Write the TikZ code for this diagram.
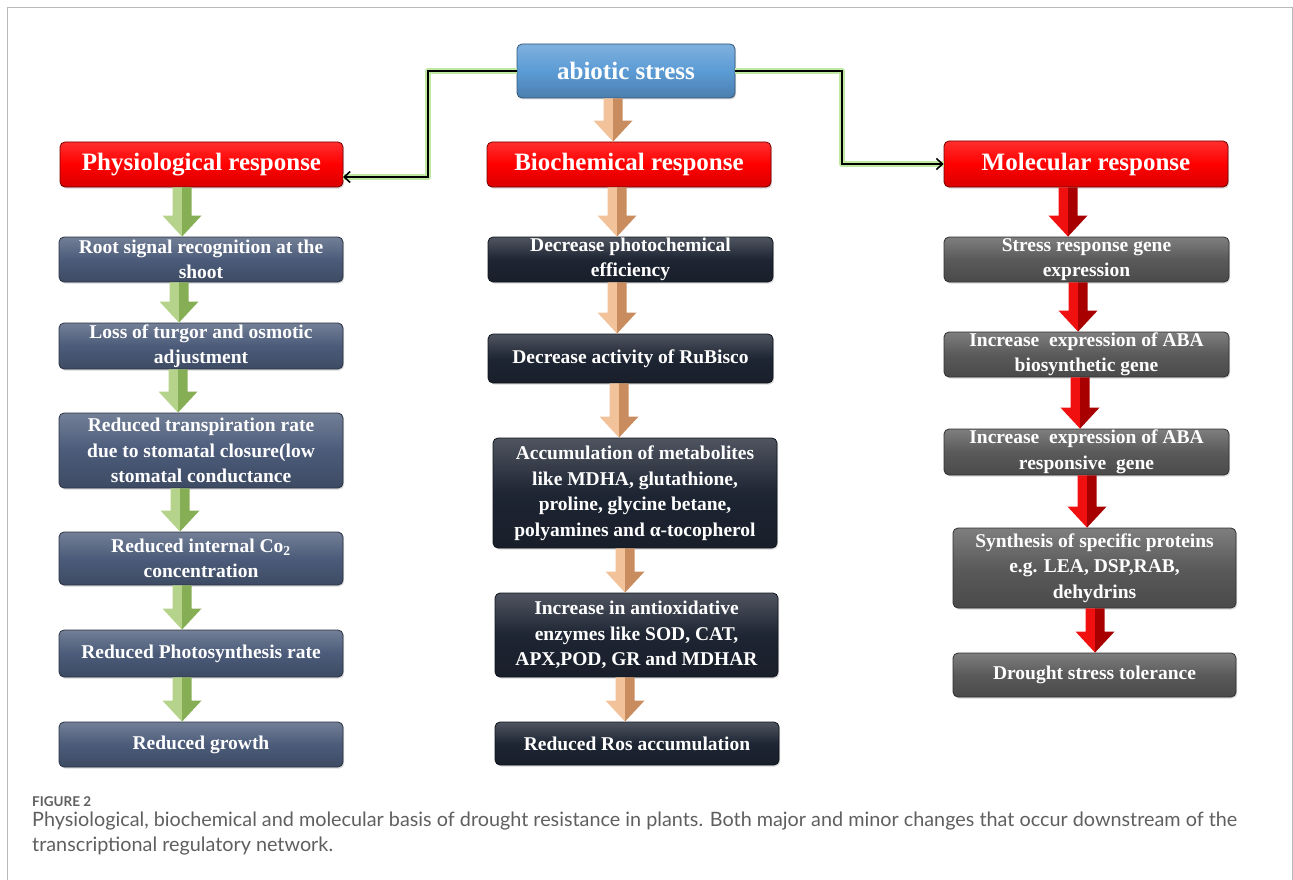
\documentclass[tikz,border=0pt]{standalone}
\usepackage{fontspec}
\setmainfont{Liberation Serif}
\newfontfamily\capfont{Lato}
\usetikzlibrary{calc,arrows.meta,shadows}
\definecolor{slatebox}{HTML}{4B5B79}
\definecolor{navybox}{HTML}{1E2533}
\definecolor{graybox}{HTML}{5A5A5A}
\definecolor{bluebox}{HTML}{5B9BD5}
\definecolor{redbox}{HTML}{FF0000}
\definecolor{glow}{HTML}{BFE8A0}
\definecolor{grnL}{HTML}{B5D38A}
\definecolor{grnD}{HTML}{86AE55}
\definecolor{tanL}{HTML}{F2C39B}
\definecolor{tanD}{HTML}{C98C5E}
\definecolor{redL}{HTML}{F01010}
\definecolor{redD}{HTML}{A80000}
\definecolor{capgray}{HTML}{5F5F5F}
\newcommand\blockarr[5]{%
  \fill[#4] let \p1=(#1.south), \p2=(#2.north) in
    ({#3-9.5},\y1) -- ({#3},\y1) -- ({#3},\y2) -- ({#3-19.5},{\y2+21pt}) -- ({#3-9.5},{\y2+21pt}) -- cycle;
  \fill[#5] let \p1=(#1.south), \p2=(#2.north) in
    ({#3},\y1) -- ({#3+9.5},\y1) -- ({#3+9.5},{\y2+21pt}) -- ({#3+19.5},{\y2+21pt}) -- ({#3},\y2) -- cycle;
}
\begin{document}
\begin{tikzpicture}[x=1pt,y=-1pt,
  box/.style={rounded corners=5pt, draw=#1!55!black, line width=0.8pt,
    top color=#1!78!white, bottom color=#1!82!black, middle color=#1,
    inner sep=0pt, text=white, align=center,
    font=\bfseries\fontsize{19.5}{25.5}\selectfont,
    drop shadow={opacity=0.3,shadow xshift=1.2pt,shadow yshift=-1.5pt}},
  headbox/.style={rounded corners=5pt, draw=redbox!45!black, line width=0.8pt,
    top color=redbox!82!white, bottom color=redbox!85!black, middle color=redbox,
    inner sep=0pt, text=white, align=center,
    font=\bfseries\fontsize{25}{30}\selectfont,
    drop shadow={opacity=0.3,shadow xshift=1.2pt,shadow yshift=-1.5pt}},
  glowline/.style={line width=6.5pt, glow, line join=round},
  conn/.style={line width=1.6pt, black, -{Straight Barb[length=6pt,width=11pt]}}
]
\useasboundingbox (0,0) rectangle (1293,880);
\draw[gray!55, line width=1pt] (7,890) -- (7,8) -- (1292,8) -- (1292,890);

% top node
\node[box=bluebox, font=\bfseries\fontsize{25}{30}\selectfont, minimum width=218pt, minimum height=54pt] (abio) at (626,71) {abiotic stress};

% headers
\node[headbox, minimum width=283pt, minimum height=45pt] (phys) at (201.5,164.5) {Physiological response};
\node[headbox, minimum width=284pt, minimum height=45pt] (bioc) at (629,164.5) {Biochemical response};
\node[headbox, minimum width=284pt, minimum height=46pt] (mole) at (1086,164) {Molecular response};

% connectors
\coordinate (kl) at (428,71);
\coordinate (kr) at (842,71);
\coordinate (pe) at (343,177);
\draw[glowline] (abio.west) -- (kl) |- (pe);
\draw[glowline] (abio.east) -- (kr) |- (mole.west);
\draw[conn] (abio.west) -- (kl) |- (pe);
\draw[conn] (abio.east) -- (kr) |- (mole.west);

% left column
\node[box=slatebox, minimum width=284pt, minimum height=45pt] (l1) at (201,259.5) {Root signal recognition at the\\shoot};
\node[box=slatebox, minimum width=284pt, minimum height=46pt] (l2) at (201,346) {Loss of turgor and osmotic\\adjustment};
\node[box=slatebox, minimum width=284pt, minimum height=75pt] (l3) at (201,450.5) {Reduced transpiration rate\\due to stomatal closure(low\\stomatal conductance};
\node[box=slatebox, minimum width=284pt, minimum height=53pt] (l4) at (201,558.5) {Reduced internal Co\textsubscript{2}\\concentration};
\node[box=slatebox, minimum width=284pt, minimum height=47pt] (l5) at (201,653.5) {Reduced Photosynthesis rate};
\node[box=slatebox, minimum width=284pt, minimum height=45pt] (l6) at (201,744.5) {Reduced growth};

% middle column
\node[box=navybox, minimum width=285pt, minimum height=45pt] (m1) at (630.5,259.5) {Decrease photochemical\\efficiency};
\node[box=navybox, minimum width=285pt, minimum height=49pt] (m2) at (630.5,358.5) {Decrease activity of RuBisco};
\node[box=navybox, minimum width=284pt, minimum height=110pt] (m3) at (635,493) {Accumulation of metabolites\\like MDHA, glutathione,\\proline, glycine betane,\\polyamines and α-tocopherol};
\node[box=navybox, minimum width=283pt, minimum height=84pt] (m4) at (636.5,635) {Increase in antioxidative\\enzymes like SOD, CAT,\\APX,POD, GR and MDHAR};
\node[box=navybox, minimum width=284pt, minimum height=43pt] (m5) at (637,743.5) {Reduced Ros accumulation};

% right column
\node[box=graybox, minimum width=285pt, minimum height=45pt] (r1) at (1086.5,259.5) {Stress response gene\\expression};
\node[box=graybox, minimum width=285pt, minimum height=45pt] (r2) at (1086.5,354.5) {Increase\ \ expression of ABA\\biosynthetic gene};
\node[box=graybox, minimum width=285pt, minimum height=46pt] (r3) at (1086.5,452) {Increase\ \ expression of ABA\\responsive\ \ gene};
\node[box=graybox, minimum width=283pt, minimum height=80pt] (r4) at (1094.5,568) {Synthesis of specific proteins\\e.g. LEA, DSP,RAB,\\dehydrins};
\node[box=graybox, minimum width=283pt, minimum height=44pt] (r5) at (1094.5,675) {Drought stress tolerance};

% block arrows
\blockarr{phys}{l1}{182}{grnL}{grnD}
\blockarr{l1}{l2}{179}{grnL}{grnD}
\blockarr{l2}{l3}{178}{grnL}{grnD}
\blockarr{l3}{l4}{180}{grnL}{grnD}
\blockarr{l4}{l5}{182}{grnL}{grnD}
\blockarr{l5}{l6}{182}{grnL}{grnD}

\blockarr{abio}{bioc}{613}{tanL}{tanD}
\blockarr{bioc}{m1}{617}{tanL}{tanD}
\blockarr{m1}{m2}{617}{tanL}{tanD}
\blockarr{m2}{m3}{619}{tanL}{tanD}
\blockarr{m3}{m4}{625}{tanL}{tanD}
\blockarr{m4}{m5}{625}{tanL}{tanD}

\blockarr{mole}{r1}{1068}{redL}{redD}
\blockarr{r1}{r2}{1078}{redL}{redD}
\blockarr{r2}{r3}{1080}{redL}{redD}
\blockarr{r3}{r4}{1087}{redL}{redD}
\blockarr{r4}{r5}{1095}{redL}{redD}

% caption
\node[anchor=base west, inner sep=0pt, text=capgray, font=\capfont\bfseries\fontsize{13.5}{16}\selectfont] (figlab) at (32,806) {FIGURE 2};
\node[anchor=base west, inner sep=0pt, text=capgray, font=\capfont\fontsize{19.8}{25}\selectfont] (cap1) at (32,826) {Physiological, biochemical and molecular basis of drought resistance in plants. Both major and minor changes that occur downstream of the};
\node[anchor=base west, inner sep=0pt, text=capgray, font=\capfont\fontsize{19.8}{25}\selectfont] (cap2) at (32,851) {transcriptional regulatory network.};
\end{tikzpicture}
\end{document}
